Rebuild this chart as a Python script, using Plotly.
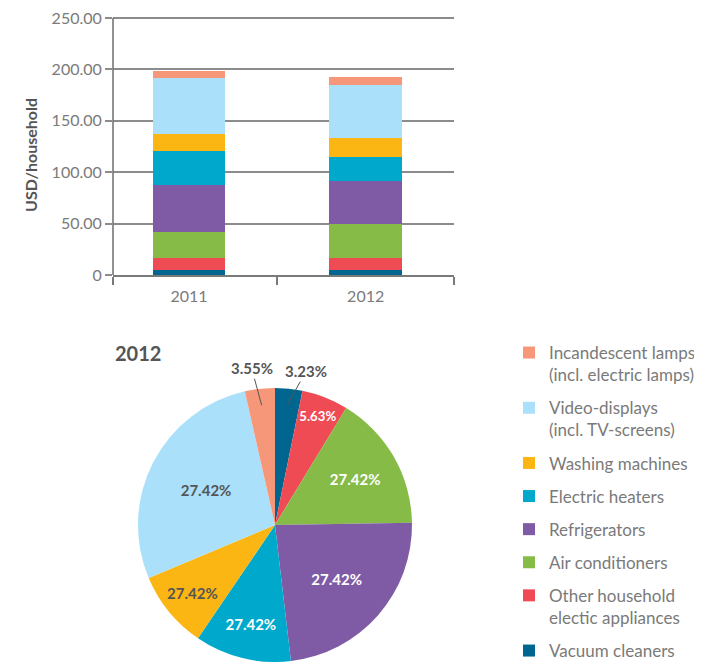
import math
import plotly.graph_objects as go

# ---------------- data ----------------
years = ["2011", "2012"]
categories = [
    "Vacuum cleaners",
    "Other household<br>electic appliances",
    "Air conditioners",
    "Refrigerators",
    "Electric heaters",
    "Washing machines",
    "Video-displays<br>(incl. TV-screens)",
    "Incandescent lamps<br>(incl. electric lamps)",
]
vacuum = [4.85, 4.85]
other = [11.65, 11.65]
aircon = [25.2, 33.0]
fridge = [45.7, 41.8]
heaters = [33.0, 23.3]
washing = [16.8, 18.7]
video = [54.1, 51.2]
lamps = [6.8, 7.7]
series = [vacuum, other, aircon, fridge, heaters, washing, video, lamps]

colors = ["#00658f", "#ef4b55", "#86bb47", "#7f5ba6", "#00a9cc", "#fbb614", "#abe0fa", "#f7977a"]

pie_values = [3.23, 5.5, 16.1, 23.5, 11.4, 9.2, 27.9, 3.55]
pie_text = ["3.23%", "5.63%", "27.42%", "27.42%", "27.42%", "27.42%", "27.42%", "3.55%"]
pie_text_colors = ["#555555", "#ffffff", "#ffffff", "#ffffff", "#ffffff", "#555555", "#555555", "#555555"]
pie_text_pos = ["none", "inside", "inside", "inside", "inside", "inside", "inside", "none"]

y_tickvals = [0, 50, 100, 150, 200, 250]
y_ticktext = ["0", "50.00", "100.00", "150.00", "200.00", "250.00"]
y_range = [0, 252]
y_title = "USD/household"
pie_title = "2012"

FONT = "Lato"
GRAY = "#7a7a7a"
DARK = "#555555"

# page body margin (8px) -> figure sized to the visible window
W, H, OFF = 694, 654, 8


def px(X):
    return (X - OFF) / W


def py(Y):
    return 1 - (Y - OFF) / H


fig = go.Figure()
xpos = list(range(len(years)))
n = len(categories)
for i, (name, vals, col) in enumerate(zip(categories, series, colors)):
    fig.add_trace(go.Bar(
        x=xpos, y=vals, name=name, marker=dict(color=col, line=dict(width=0)),
        width=0.41, legendgroup=str(i), legendrank=100 + n - i, hoverinfo="y+name",
    ))

# pie geometry (window pixels)
pie_left, pie_right, pie_top = 138, 412, 388
pie_dom_x = [px(pie_left), px(pie_right)]
pie_dom_y = [0.0, py(pie_top)]
R = min(pie_right - pie_left, (OFF + H) - pie_top) / 2
cx = (pie_left + pie_right) / 2
cy = (OFF + H) - R

fig.add_trace(go.Pie(
    values=pie_values, labels=categories, text=pie_text, textinfo="text",
    sort=False, direction="clockwise", rotation=0,
    marker=dict(colors=colors, line=dict(width=0)),
    textposition=pie_text_pos,
    insidetextorientation="horizontal",
    insidetextfont=dict(family=FONT, size=15, color=pie_text_colors, weight="bold"),
    domain=dict(x=pie_dom_x, y=pie_dom_y),
    showlegend=False, hoverinfo="label+percent",
))

# leader-line labels for the two small slices
total = sum(pie_values)
cum = [sum(pie_values[:k]) for k in range(len(pie_values))]
annotations = [
    dict(
        text="<b>%s</b>" % pie_title, x=px(113), y=py(353), xref="paper", yref="paper",
        xanchor="left", yanchor="middle", showarrow=False,
        font=dict(family=FONT, size=20, color=DARK),
    ),
    dict(
        text="<b>%s</b>" % y_title, x=px(30), y=py(155), xref="paper", yref="paper",
        xanchor="center", yanchor="middle", showarrow=False, textangle=-90,
        font=dict(family=FONT, size=16, color=DARK),
    ),
]
for k, (ax, ay) in [(0, (19, -34)), (len(pie_values) - 1, (-10, -37))]:
    theta = 2 * math.pi * (cum[k] + pie_values[k] / 2) / total
    tx = cx + 0.88 * R * math.sin(theta)
    ty = cy - 0.88 * R * math.cos(theta)
    annotations.append(dict(
        text="<b>%s</b>" % pie_text[k], x=px(tx), y=py(ty), xref="paper", yref="paper",
        ax=ax, ay=ay, showarrow=True, arrowhead=0, arrowwidth=1, arrowcolor=DARK,
        standoff=0, font=dict(family=FONT, size=15, color=DARK),
    ))

# bar plot area: value 0 at y=275 px, value 250 at y=18 px
y0_px, y250_px = 275, 18
top_px = y0_px - (y0_px - y250_px) * y_range[1] / 250

fig.update_layout(
    width=W, height=H,
    margin=dict(l=0, r=0, t=0, b=0, autoexpand=False),
    paper_bgcolor="white", plot_bgcolor="white",
    barmode="stack",
    font=dict(family=FONT, size=16, color=GRAY),
    showlegend=True,
    legend=dict(
        x=px(509), y=py(335), xanchor="left", yanchor="top",
        traceorder="grouped", tracegroupgap=8, valign="top",
        font=dict(family=FONT, size=17, color=GRAY),
        bgcolor="rgba(0,0,0,0)",
    ),
    xaxis=dict(
        domain=[px(113), px(454)], range=[-0.43, 1.5], automargin=False,
        tickmode="array", tickvals=xpos, ticktext=years, ticks="",
        ticklabelstandoff=6,
        showline=True, linecolor="#7a7a7a", linewidth=1.5,
        showgrid=False, zeroline=False,
        tickfont=dict(family=FONT, size=16, color=GRAY),
        minor=dict(tickmode="array", tickvals=[-0.43, 0.5, 1.5], ticks="outside",
                   ticklen=8, tickcolor="#7a7a7a", tickwidth=1.5, showgrid=False),
    ),
    yaxis=dict(
        domain=[py(y0_px), py(top_px)], range=y_range, automargin=False,
        tickmode="array", tickvals=y_tickvals, ticktext=y_ticktext,
        ticklabeloverflow="allow",
        ticks="outside", ticklen=7, tickcolor="#8c8c8c", tickwidth=1.5,
        showline=False,
        showgrid=True, gridcolor="#8c8c8c", gridwidth=1.5, zeroline=False,
        tickfont=dict(family=FONT, size=16, color=GRAY),
    ),
    shapes=[dict(
        type="line", xref="x domain", yref="y", x0=0, x1=0, y0=0, y1=250,
        line=dict(color="#6d6d6d", width=1.5),
    )],
    annotations=annotations,
)

fig.write_html("out.html")
